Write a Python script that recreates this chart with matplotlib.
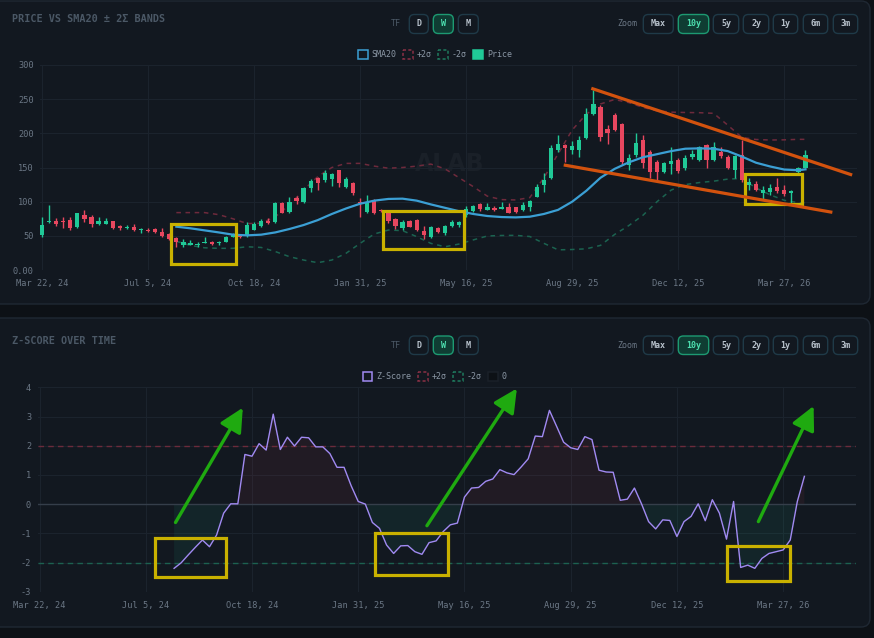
import numpy as np
import pandas as pd
import matplotlib
matplotlib.use("Agg")
import matplotlib.pyplot as plt
from matplotlib.patches import FancyBboxPatch, Rectangle
import matplotlib.dates as mdates

# ---- data (weekly candles) ----
start = "2024-03-22"
opens = [51, 70, 72, 72, 73, 63, 80, 77, 68, 68, 71, 64, 61, 63, 58, 59, 59.5, 56, 52, 47,
         36, 37, 36, 39, 41.5, 39, 41.5, 49, 51, 50, 58.5, 64.5, 71, 70.7, 98.5, 85, 105, 100, 119.5, 134,
         131.7, 132.7, 146, 122, 127.8, 100, 85, 102.4, 87.8, 84, 74, 61, 72, 73, 57, 47.8, 62, 54.6, 64.4, 66,
         80.5, 86.8, 96.6, 88, 91, 90, 92.7, 91.7, 87.8, 91.7, 107.3, 124.4, 134, 175.6, 183, 175.6, 175.6, 192.7, 229, 239,
         205.9, 226.8, 213.7, 153.7, 168.3, 190, 173, 158.5, 143.9, 155, 161, 148.8, 166, 161, 183, 161, 172, 165.8, 146.3, 168,
         124.4, 125.4, 112, 114.6, 121.9, 117, 112, 143.9, 149.8]
highs = [78, 95, 76, 77, 77, 84, 88, 80, 77, 76, 72, 66, 66, 67, 62, 61, 61, 61, 54, 49,
         45, 44, 41.5, 49, 42.5, 43, 50, 54, 52, 70, 70, 74, 75.6, 100, 100, 107, 108, 121, 132.7, 135.6,
         146, 141.5, 147, 135.6, 129, 105, 110, 103.4, 90, 85, 75.6, 73, 72.5, 74, 64.4, 64.4, 62.4, 65.8, 73, 72,
         93.7, 95, 98.5, 97.6, 93.7, 100, 98.5, 92.7, 100, 102.4, 125.9, 141.5, 183, 197.6, 185, 189, 196, 236.6, 263, 241.5,
         212, 230, 214.6, 169.8, 200, 197.6, 175.6, 161, 158.5, 180.5, 163.4, 168.3, 175.6, 182, 184, 187.8, 180.5, 168.3, 168.3, 190,
         134, 130, 123.4, 125.4, 135, 124.4, 117, 151, 175.6]
lows = [49, 69, 65, 62, 58, 62, 70, 63, 66, 68, 60, 58, 60, 57, 54, 55, 54, 49, 44, 34,
        34, 36, 34, 39, 37, 36, 40.5, 48, 47, 49, 58, 63.5, 67, 69, 83, 83, 96.6, 98.5, 114.6, 117,
        129, 123, 122, 119.5, 109.8, 78, 84, 82, 85, 69, 59.5, 58.5, 63, 57.5, 45, 46.3, 54.6, 51, 62.4, 62.4,
        78, 85.4, 86.8, 87.8, 87, 88.8, 83, 83.9, 86.8, 86.8, 106.3, 114.6, 132.7, 173, 158.5, 169.8, 165.8, 191, 226.8, 189,
        184.4, 204, 153.7, 146.3, 165.9, 148.8, 134, 131.7, 141.5, 140.5, 142.4, 146.3, 163, 159.5, 148.8, 159.5, 163.4, 147.8, 134, 129,
        117, 115.6, 104, 109.8, 112, 108.8, 96, 140, 148.8]
closes = [66, 71, 67, 70, 62, 83, 75, 68, 72, 71, 62, 61, 63, 58.5, 60, 57.5, 55, 50, 45, 41.5,
          40.5, 39, 37.5, 41.5, 38, 41.5, 49, 52, 48, 66, 68, 72, 69, 97.6, 84, 100, 101.5, 119.5, 130.7, 126.8,
          141.5, 140.5, 126.8, 132.7, 112, 98, 100, 83, 86, 72, 64.4, 70.7, 63.4, 58.5, 51, 62.4, 56, 64.4, 70.7, 70,
          90, 93.7, 88.8, 92, 88, 92.7, 84, 85.4, 95, 101.5, 122, 131.7, 178, 184.4, 178, 181.5, 190, 229, 243, 195,
          200, 204.9, 158.5, 163.4, 185.4, 156, 143.9, 143.9, 156, 160, 145.4, 163.4, 170, 180.5, 161, 180.5, 167, 148.8, 166.8, 131.7,
          129.3, 117, 117, 119.5, 115.6, 110.7, 115.6, 149.8, 168.3]

# SMA20 and +/-2 sigma bands, sampled every other week (week index)
band_idx = [19, 21, 23, 25, 27, 29, 31, 33, 35, 37, 39, 41, 43, 45, 47, 49, 51, 53, 55, 57,
            59, 61, 63, 65, 67, 69, 71, 73, 75, 77, 79, 81, 83, 85, 87, 89, 91, 93, 95, 97,
            99, 101, 103, 105, 107, 108]
sma20 = [63.4, 61, 58, 55, 51.7, 50.7, 51.7, 55, 60, 65.8, 73, 82, 90, 97, 101.5, 104, 104.4, 101.5, 96, 91,
         86, 82, 79, 77.5, 77, 78, 82, 88, 100, 116, 135, 148, 157.5, 165, 169.5, 174, 177.5, 178, 177.5, 174,
         166, 157, 151.5, 147, 146, 147.3]
upper = [84, 84, 84, 81, 75, 68, 68.3, 78, 95, 117, 136.6, 150, 156, 156, 152, 149, 150, 152, 155, 148,
         135, 122, 108, 103, 102.5, 106, 135, 170, 205, 228, 243, 249.5, 245, 238, 233, 231, 230.5, 230.2, 229.3, 212,
         194, 191, 190.2, 190.5, 191.2, 191.2]
lower = [42, 36, 32.5, 31.7, 31.7, 34, 33, 27, 19.5, 14.6, 10.7, 14.6, 24.4, 39, 52.7, 58.5, 57.6, 48.8, 39, 34,
         38, 44, 49.8, 50.5, 50.7, 49, 39, 29.5, 30, 31, 36, 52, 65, 80, 100, 117, 125, 128, 130, 133,
         134, 120, 110, 102, 98.5, 98.5]

# z-score, one value per week starting at week 19
z_first = 19
zscore = [-2.20, -2.01, -1.74, -1.48, -1.23, -1.46, -1.06, -0.31, 0.01, 0.01,
          1.70, 1.64, 2.07, 1.85, 3.08, 1.87, 2.29, 1.99, 2.29, 2.27,
          1.96, 1.96, 1.73, 1.26, 1.26, 0.63, 0.09, 0.0, -0.63, -0.83,
          -1.40, -1.69, -1.43, -1.42, -1.63, -1.72, -1.32, -1.26, -0.94, -0.71,
          -0.65, 0.24, 0.55, 0.57, 0.78, 0.86, 1.18, 1.07, 1.01, 1.27,
          1.55, 2.33, 2.31, 3.21, 2.67, 2.12, 1.93, 1.87, 2.31, 2.21,
          1.16, 1.10, 1.09, 0.13, 0.17, 0.55, 0.01, -0.60, -0.85, -0.54,
          -0.56, -1.11, -0.60, -0.42, 0.01, -0.57, 0.15, -0.31, -1.20, 0.09,
          -2.17, -2.09, -2.20, -1.86, -1.69, -1.63, -1.57, -1.23, 0.09, 0.95]

tf_buttons = ["D", "W", "M"]
zoom_buttons = ["Max", "10y", "5y", "2y", "1y", "6m", "3m"]

# ---- styling ----
BG = "#0d1116"
CARD = "#121820"
CARD_EDGE = "#1f2833"
GRID = "#1b232d"
TICK = "#6b7785"
GREEN = "#20c997"
RED = "#e8475f"
SMA_C = "#3b9fd4"
UP_C = "#6e2a3c"
LO_C = "#1b6350"
Z_C = "#a18af2"
YEL = "#c9b100"
ORANGE = "#d2520e"
ARROW = "#1faa10"
MONO = "DejaVu Sans Mono"

W, H = 874, 638
weeks = pd.date_range(start, periods=len(closes), freq="7D")
d0 = pd.Timestamp(start)
tick_dates = pd.date_range(start, periods=8, freq="105D")
band_dates = weeks[band_idx]
z_dates = weeks[z_first:z_first + len(zscore)]


def wk(w):
    return mdates.date2num(d0 + pd.Timedelta(days=7 * w))


def date_label(d):
    return f"{d.strftime('%b')} {d.day}, {d.strftime('%y')}"


def px_axes(l, r, t, b):
    return [l / W, 1 - b / H, (r - l) / W, (b - t) / H]


fig = plt.figure(figsize=(W / 100, H / 100), dpi=100, facecolor=BG)
bg = fig.add_axes([0, 0, 1, 1])
bg.set_xlim(0, W)
bg.set_ylim(H, 0)
bg.axis("off")

# cards
for y0, y1 in [(1, 304), (318, 627)]:
    bg.add_patch(FancyBboxPatch((-12, y0), 882, y1 - y0,
                                boxstyle="round,pad=0,rounding_size=9",
                                fc=CARD, ec=CARD_EDGE, lw=1))

bg.text(12, 18.5, "PRICE VS SMA20 \u00b1 2\u03a3 BANDS", family=MONO, weight="bold",
        size=7.3, color="#4b5866", va="center")
bg.text(12, 340.5, "Z-SCORE OVER TIME", family=MONO, weight="bold",
        size=7.3, color="#4b5866", va="center")


def button(x0, x1, y0, y1, label, active=False):
    fc = "#0f3d33" if active else CARD
    ec = "#1d9a72" if active else "#1f3a48"
    tc = "#4de0b0" if active else "#b8c2cc"
    bg.add_patch(FancyBboxPatch((x0, y0), x1 - x0, y1 - y0,
                                boxstyle="round,pad=0,rounding_size=5",
                                fc=fc, ec=ec, lw=1))
    bg.text((x0 + x1) / 2, (y0 + y1) / 2, label, family=MONO, weight="bold",
            size=6, color=tc, ha="center", va="center")


tf_x = [(409.3, 428.3), (433.3, 453.3), (458.3, 478.3)]
zoom_x = [(643.3, 673.3), (678.3, 708.7), (713.3, 738.7), (743.3, 768.7),
          (773.3, 797.7), (803.3, 827.7), (833.3, 857.7)]
for y0, y1 in [(14.5, 33.5), (336, 354.5)]:
    yc = (y0 + y1) / 2
    bg.text(395.5, yc, "TF", family=MONO, size=6, color="#4b5866", ha="center", va="center")
    bg.text(627.3, yc, "Zoom", family=MONO, size=6, color="#6b7785", ha="center", va="center")
    for (a, b), lab in zip(tf_x, tf_buttons):
        button(a, b, y0, y1, lab, lab == "W")
    for (a, b), lab in zip(zoom_x, zoom_buttons):
        button(a, b, y0, y1, lab, lab == "10y")


def legend_item(x0, yc, label, ec, fc="none", ls="-"):
    bg.add_patch(Rectangle((x0, yc - 4.5), 9.5, 9, fc=fc, ec=ec, lw=1.1, ls=ls))
    bg.text(x0 + 13.5, yc, label, family=MONO, size=6, color="#8b97a5", va="center")


legend_item(358, 54.5, "SMA20", SMA_C)
legend_item(403.3, 54.5, "+2\u03c3", "#8a3045", ls=(0, (2, 1.5)))
legend_item(438.3, 54.5, "-2\u03c3", "#1f7a5e", ls=(0, (2, 1.5)))
legend_item(473.3, 54.5, "Price", GREEN, fc=GREEN)
legend_item(362.7, 376.5, "Z-Score", Z_C)
legend_item(418.3, 376.5, "+2\u03c3", "#8a3045", ls=(0, (2, 1.5)))
legend_item(453.3, 376.5, "-2\u03c3", "#1f7a5e", ls=(0, (2, 1.5)))
legend_item(488.3, 376.5, "0", "#1a2029", fc="#0d1116")

# watermark
bg.text(450, 164, "ALAB", family="DejaVu Sans", weight="bold", size=17,
        color="#1a2028", ha="center", va="center")

xlim = (mdates.date2num(d0) - 2, mdates.date2num(d0) + 807)


def style_axes(ax, yticks, ylabels):
    ax.set_facecolor("none")
    for s in ax.spines.values():
        s.set_visible(False)
    ax.set_xlim(*xlim)
    ax.set_xticks(mdates.date2num(tick_dates))
    ax.set_xticklabels([date_label(d) for d in tick_dates])
    ax.set_yticks(yticks)
    ax.set_yticklabels(ylabels)
    ax.tick_params(length=0, labelsize=6.2, colors=TICK, pad=4.5)
    ax.tick_params(axis="x", pad=6.5)
    for lab in ax.get_xticklabels() + ax.get_yticklabels():
        lab.set_family(MONO)
    ax.grid(True, color=GRID, lw=0.8)
    ax.set_axisbelow(True)


# ---- price panel ----
ax1 = fig.add_axes(px_axes(40, 857, 65, 270))
ax1.set_ylim(0, 300)
style_axes(ax1, [0, 50, 100, 150, 200, 250, 300],
           ["0.00", "50", "100", "150", "200", "250", "300"])

xn = mdates.date2num(weeks)
o = np.array(opens)
c = np.array(closes)
up = c >= o
cols = np.where(up, GREEN, RED)
ax1.vlines(xn, lows, highs, colors=cols, lw=1, zorder=3)
body_lo = np.minimum(o, c)
body_h = np.maximum(np.abs(c - o), 1.2)
ax1.bar(xn, body_h, bottom=body_lo, width=4.2, color=cols, zorder=4)

bx = mdates.date2num(band_dates)
ax1.plot(bx, upper, color=UP_C, lw=1.1, ls=(0, (3, 3)), zorder=2)
ax1.plot(bx, lower, color=LO_C, lw=1.1, ls=(0, (3, 3)), zorder=2)
ax1.plot(bx, sma20, color=SMA_C, lw=1.6, zorder=5)

# annotations on price panel
for (xa, xb, ya, yb) in [(18.2, 27.5, 8.3, 67.3), (48.3, 59.7, 31.2, 86.8), (99.4, 107.5, 96.2, 140.5)]:
    ax1.add_patch(Rectangle((wk(xa), ya), wk(xb) - wk(xa), yb - ya, fill=False,
                            ec=YEL, lw=2.3, zorder=8, clip_on=False))
ax1.plot([wk(77.7), wk(114.6)], [265.9, 139], color=ORANGE, lw=2.3, zorder=8,
         clip_on=False, solid_capstyle="butt")
ax1.plot([wk(73.8), wk(111.8)], [153.7, 84.4], color=ORANGE, lw=2.3, zorder=8,
         clip_on=False, solid_capstyle="butt")

# ---- z-score panel ----
ax2 = fig.add_axes(px_axes(37.5, 856, 387.3, 591.7))
ax2.set_ylim(-3, 4)
style_axes(ax2, list(range(-3, 5)), [str(v) for v in range(-3, 5)])
zx = mdates.date2num(z_dates)
z = np.array(zscore)
ax2.fill_between(zx, z, 0, where=z >= 0, interpolate=True, color=RED, alpha=0.07, lw=0)
ax2.fill_between(zx, z, 0, where=z <= 0, interpolate=True, color=GREEN, alpha=0.08, lw=0)
ax2.axhline(0, color="#353e4a", lw=1)
ax2.axhline(2, color="#6b2b3b", lw=1, ls=(0, (4, 3)))
ax2.axhline(-2, color="#1c6150", lw=1, ls=(0, (4, 3)))
ax2.plot(zx, z, color=Z_C, lw=1, zorder=5)

for (xa, xb, ya, yb) in [(16.3, 26.4, -2.49, -1.17), (47.3, 57.7, -2.42, -0.98), (97.1, 105.9, -2.63, -1.44)]:
    ax2.add_patch(Rectangle((wk(xa), ya), wk(xb) - wk(xa), yb - ya, fill=False,
                            ec=YEL, lw=2.3, zorder=8, clip_on=False))
for (xa, ya, xb, yb) in [(19.2, -0.63, 28.7, 3.30), (54.7, -0.74, 67.4, 3.96), (101.5, -0.6, 109.3, 3.36)]:
    ax2.annotate("", xy=(wk(xb), yb), xytext=(wk(xa), ya), annotation_clip=False,
                 arrowprops=dict(arrowstyle="-|>,head_length=0.9,head_width=0.45",
                                 color=ARROW, lw=2.4, mutation_scale=16, shrinkA=0, shrinkB=0),
                 zorder=8)

fig.savefig("out.png", dpi=100, facecolor=BG)
